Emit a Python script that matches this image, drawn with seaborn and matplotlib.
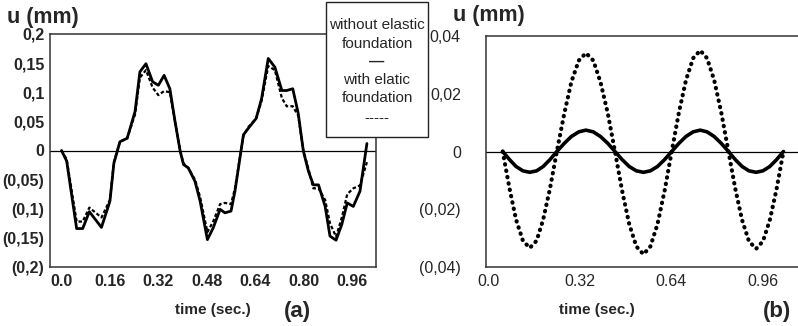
import matplotlib
matplotlib.use("Agg")
import matplotlib.pyplot as plt
from matplotlib.patches import Rectangle
from matplotlib.ticker import FixedLocator, MultipleLocator
import seaborn as sns
import pandas as pd

# ---------------- data ----------------
# panel (a)
t_a = [0.0, 0.017, 0.05, 0.07, 0.092, 0.132, 0.16, 0.173, 0.193, 0.217,
       0.243, 0.259, 0.279, 0.301, 0.320, 0.339, 0.358, 0.375, 0.392, 0.403,
       0.419, 0.441, 0.458, 0.482, 0.501, 0.524, 0.540, 0.560, 0.573, 0.601,
       0.617, 0.643, 0.661, 0.683, 0.705, 0.728, 0.744, 0.764, 0.782, 0.799,
       0.816, 0.832, 0.849, 0.871, 0.887, 0.907, 0.926, 0.944, 0.964, 0.986,
       1.009]
without_a = [0, -0.018, -0.134, -0.134, -0.105, -0.132, -0.087, -0.022, 0.015, 0.021,
             0.067, 0.135, 0.149, 0.118, 0.112, 0.129, 0.106, 0.050, -0.001, -0.024,
             -0.030, -0.053, -0.087, -0.153, -0.133, -0.101, -0.107, -0.104, -0.070, 0.027,
             0.038, 0.055, 0.089, 0.158, 0.143, 0.103, 0.103, 0.106, 0.064, -0.001,
             -0.036, -0.059, -0.059, -0.096, -0.147, -0.154, -0.127, -0.090, -0.096, -0.070,
             0.012]
with_a = [0, -0.015, -0.122, -0.122, -0.098, -0.115, -0.085, -0.020, 0.015, 0.021,
          0.062, 0.125, 0.138, 0.108, 0.095, 0.102, 0.100, 0.050, 0.0, -0.022,
          -0.030, -0.050, -0.080, -0.140, -0.122, -0.092, -0.090, -0.092, -0.065, 0.025,
          0.040, 0.055, 0.085, 0.145, 0.138, 0.090, 0.076, 0.076, 0.060, 0.0,
          -0.032, -0.065, -0.065, -0.085, -0.125, -0.148, -0.115, -0.075, -0.065, -0.060,
          -0.020]

# panel (b)
t_b = [0.048, 0.072, 0.095, 0.119, 0.143, 0.167, 0.190, 0.214, 0.238, 0.264,
       0.289, 0.315, 0.340, 0.366, 0.391, 0.417, 0.442, 0.467, 0.492, 0.517,
       0.542, 0.566, 0.591, 0.616, 0.641, 0.666, 0.691, 0.716, 0.741, 0.765,
       0.790, 0.815, 0.840, 0.864, 0.888, 0.912, 0.937, 0.961, 0.985, 1.009,
       1.033]
without_b = [0, -0.0028, -0.0052, -0.0067, -0.0072, -0.0067, -0.0052, -0.0028, 0, 0.0028,
             0.0052, 0.0068, 0.0074, 0.0068, 0.0052, 0.0028, 0, -0.0028, -0.0052, -0.0067,
             -0.0072, -0.0067, -0.0052, -0.0028, 0, 0.0028, 0.0052, 0.0068, 0.0074, 0.0068,
             0.0052, 0.0028, 0, -0.0028, -0.0052, -0.0067, -0.0072, -0.0067, -0.0052, -0.0028,
             0]
with_b = [0, -0.0128, -0.0236, -0.0309, -0.0334, -0.0309, -0.0236, -0.0128, 0, 0.0131,
          0.0241, 0.0315, 0.0341, 0.0315, 0.0241, 0.0131, 0, -0.0136, -0.0252, -0.0329,
          -0.0356, -0.0329, -0.0252, -0.0136, 0, 0.0134, 0.0247, 0.0323, 0.0350, 0.0323,
          0.0247, 0.0134, 0, -0.0129, -0.0238, -0.0311, -0.0337, -0.0311, -0.0238, -0.0129,
          0]

xticks_a = [0.0, 0.16, 0.32, 0.48, 0.64, 0.80, 0.96]
xlabels_a = ["0.0", "0.16", "0.32", "0.48", "0.64", "0.80", "0.96"]
yticks_a = [0.2, 0.15, 0.1, 0.05, 0, -0.05, -0.1, -0.15, -0.2]
ylabels_a = ["0,2", "0,15", "0,1", "0,05", "0", "(0,05)", "(0,1)", "(0,15)", "(0,2)"]

xticks_b = [0.0, 0.32, 0.64, 0.96]
xlabels_b = ["0.0", "0.32", "0.64", "0.96"]
yticks_b = [0.04, 0.02, 0, -0.02, -0.04]
ylabels_b = ["0,04", "0,02", "0", "(0,02)", "(0,04)"]

legend_lines = ["without elastic", "foundation", "—", "with elatic", "foundation", "-----"]

df_a = pd.DataFrame({"t": t_a, "without": without_a, "with": with_a})
df_b = pd.DataFrame({"t": t_b, "without": without_b, "with": with_b})

# ---------------- style ----------------
sns.set_theme(style="white")
plt.rcParams["font.family"] = ["Liberation Sans", "DejaVu Sans"]

W, H = 798, 326
fig = plt.figure(figsize=(W / 100, H / 100), dpi=100)
fig.patch.set_facecolor("white")


def fx(px):
    return px / W


def fy(py):
    return 1 - py / H


ax_a = fig.add_axes([fx(50), fy(267), fx(376 - 50), (267 - 34) / H])
ax_b = fig.add_axes([fx(486), fy(267), fx(798 - 486), (267 - 36) / H])

# ---- panel (a)
sns.lineplot(data=df_a, x="t", y="without", ax=ax_a, color="black", lw=2.0,
             sort=False, estimator=None)
sns.lineplot(data=df_a, x="t", y="with", ax=ax_a, color="black", lw=1.6,
             sort=False, estimator=None, linestyle=(0, (1.6, 1.0)))
ax_a.axhline(0, color="black", lw=0.9, zorder=1)
ax_a.set_xlim(-0.038, 1.039)
ax_a.set_ylim(-0.2, 0.2)
ax_a.xaxis.set_major_locator(FixedLocator(xticks_a))
ax_a.set_xticklabels(xlabels_a)
ax_a.xaxis.set_minor_locator(MultipleLocator(0.02))
ax_a.yaxis.set_major_locator(FixedLocator(yticks_a))
ax_a.set_yticklabels(ylabels_a)
ax_a.yaxis.set_minor_locator(MultipleLocator(0.025))
ax_a.tick_params(axis="both", which="both", direction="in", color="#444444", width=0.7)
ax_a.tick_params(axis="both", which="major", length=3.5, labelsize=11.5)
ax_a.tick_params(axis="both", which="minor", length=2)
ax_a.tick_params(axis="y", pad=4)
ax_a.tick_params(axis="x", pad=5)
for lab in ax_a.get_xticklabels() + ax_a.get_yticklabels():
    lab.set_fontweight("bold")
for s in ax_a.spines.values():
    s.set_color("#333333")
    s.set_linewidth(1.1)
ax_a.set_xlabel("")
ax_a.set_ylabel("")

# ---- panel (b)
sns.lineplot(data=df_b, x="t", y="without", ax=ax_b, color="black", lw=2.6,
             sort=False, estimator=None)
sns.lineplot(data=df_b, x="t", y="with", ax=ax_b, color="black", lw=3.0,
             sort=False, estimator=None, linestyle=(0, (0.1, 1.45)))
ax_b.lines[-1].set_dash_capstyle("round")
ax_b.axhline(0, color="black", lw=0.9, zorder=1)
ax_b.set_xlim(-0.0105, 1.084)
ax_b.set_ylim(-0.04, 0.04)
ax_b.xaxis.set_major_locator(FixedLocator(xticks_b))
ax_b.set_xticklabels(xlabels_b)
ax_b.xaxis.set_minor_locator(MultipleLocator(0.016))
ax_b.yaxis.set_major_locator(FixedLocator(yticks_b))
ax_b.set_yticklabels(ylabels_b)
ax_b.yaxis.set_minor_locator(MultipleLocator(0.01))
ax_b.tick_params(axis="both", which="both", direction="in", color="#444444", width=0.7)
ax_b.tick_params(axis="both", which="major", length=3.5, labelsize=11.5)
ax_b.tick_params(axis="both", which="minor", length=2)
ax_b.tick_params(axis="y", pad=18)
ax_b.tick_params(axis="x", pad=5)
ax_b.spines["right"].set_visible(False)
for s in ["top", "left", "bottom"]:
    ax_b.spines[s].set_color("#333333")
    ax_b.spines[s].set_linewidth(1.1)
ax_b.set_xlabel("")
ax_b.set_ylabel("")

# ---- titles / labels
fig.text(fx(7), fy(17), "u (mm)", fontsize=15.5, fontweight="bold", ha="left", va="center")
fig.text(fx(453), fy(15), "u (mm)", fontsize=15.5, fontweight="bold", ha="left", va="center")
fig.text(fx(213), fy(310), "time (sec.)", fontsize=11, fontweight="bold", ha="center", va="center")
fig.text(fx(297), fy(311), "(a)", fontsize=16, fontweight="bold", ha="center", va="center")
fig.text(fx(597), fy(310), "time (sec.)", fontsize=11, fontweight="bold", ha="center", va="center")
fig.text(fx(777), fy(311), "(b)", fontsize=16, fontweight="bold", ha="center", va="center")

# ---- legend box
rect = Rectangle((fx(326), fy(137)), fx(428 - 326), (137 - 2) / H,
                 transform=fig.transFigure, facecolor="white", edgecolor="#222222",
                 lw=1.0, zorder=5)
fig.patches.append(rect)
ys = [25, 44, 62, 80, 98, 118]
weights = ["normal", "normal", "bold", "normal", "normal", "normal"]
for txt, yy, wt in zip(legend_lines, ys, weights):
    fig.text(fx(377), fy(yy), txt, fontsize=11, ha="center", va="center",
             fontweight=wt, zorder=6)

fig.savefig("out.png", dpi=100, facecolor="white")
